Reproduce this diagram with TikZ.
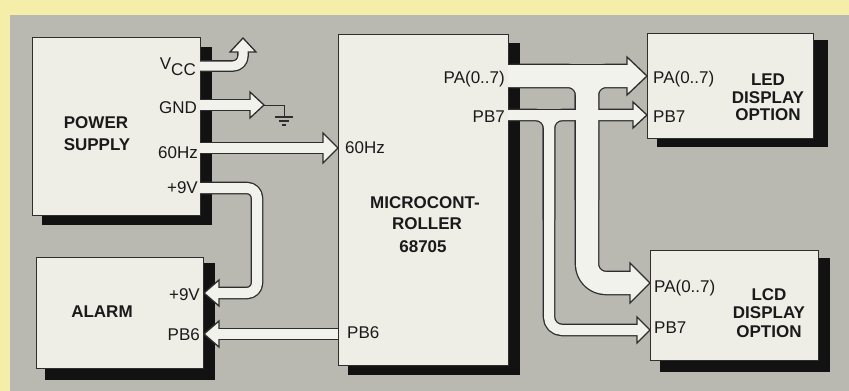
\documentclass[tikz,border=0pt]{standalone}
\usepackage{fontspec}
\setmainfont{Liberation Sans}
\definecolor{bgyellow}{HTML}{F4EEA8}
\definecolor{bggray}{HTML}{B9B9B1}
\definecolor{boxw}{HTML}{EEEEE7}
\definecolor{arrw}{HTML}{F2F2EC}
\definecolor{linec}{HTML}{2E2E2E}
\definecolor{shadowc}{HTML}{121212}
\definecolor{txtc}{HTML}{1A1A1A}
\begin{document}
\begin{tikzpicture}[x=1pt,y=-1pt,
  font=\fontsize{17}{18}\selectfont,
  lbl/.style={inner sep=0pt, text=txtc},
  title/.style={inner sep=0pt, text=txtc, font=\fontsize{17}{18}\selectfont\bfseries, anchor=base},
  boxstyle/.style={draw=linec, line width=1pt, fill=boxw, inner sep=0pt},
  busout/.style={draw=linec, line width=#1+2.6pt, line cap=butt, line join=round},
  busin/.style={draw=arrw, line width=#1, line cap=butt, line join=round},
  headstyle/.style={fill=arrw, draw=linec, line width=1.3pt, line join=miter}]
% background
\fill[bgyellow] (0,0) rectangle (849,391);
\fill[bggray] (10,15) rectangle (849,391);
\useasboundingbox (0,0) rectangle (849,391);
% shadows
\fill[shadowc] (42,47) rectangle (212,225);
\fill[shadowc] (45,263) rectangle (215,380);
\fill[shadowc] (348,43) rectangle (520,375);
\fill[shadowc] (657,40) rectangle (828,147);
\fill[shadowc] (660,258) rectangle (830,372);
% boxes
\node[boxstyle, minimum width=168pt, minimum height=178pt] (psu) at (116,126) {};
\node[boxstyle, minimum width=167pt, minimum height=111pt] (alarm) at (119.5,312.5) {};
\node[boxstyle, minimum width=170pt, minimum height=331pt] (mcu) at (423,199.5) {};
\node[boxstyle, minimum width=166pt, minimum height=105pt] (led) at (730,85.5) {};
\node[boxstyle, minimum width=168pt, minimum height=110pt] (lcd) at (734,305) {};
% port coordinates
\coordinate (vccA) at (200,66);  \coordinate (vccT) at (243,52);
\coordinate (gndA) at (200,105); \coordinate (gndB) at (250,105); \coordinate (gndT) at (264,105);
\coordinate (hzA) at (200,148);  \coordinate (hzB) at (323,148);
\coordinate (nvA) at (200,188);  \coordinate (nvB) at (219,293);
\coordinate (pb6A) at (338,334); \coordinate (pb6B) at (219,334);
\coordinate (paA) at (508,76);   \coordinate (paB) at (627,76);  \coordinate (paC) at (630,283);
\coordinate (pbA) at (508,115);  \coordinate (pbB) at (633,115); \coordinate (pbC) at (637,330);
% ---- bus outlines ----
\draw[busout=9pt, rounded corners=10pt] (vccA) -| (vccT);
\draw[busout=10pt] (gndA) -- (gndB);
\draw[busout=10pt] (hzA) -- (hzB);
\draw[busout=10pt, rounded corners=10pt] (nvA) -- (257,188) -- (257,293) -- (nvB);
\draw[busout=10pt] (pb6A) -- (pb6B);
\draw[busout=22pt] (paA) -- (paB);
\draw[busout=22pt, rounded corners=19pt] (paA) -- (587,76) -- (587,283) -- (paC);
\draw[busout=22pt, rounded corners=19pt] (587,200) -- (587,76) -- (paB);
\draw[busout=10pt] (pbA) -- (pbB);
\draw[busout=10pt, rounded corners=13pt] (pbA) -- (549,115) -- (549,330) -- (pbC);
\draw[busout=10pt, rounded corners=13pt] (549,220) -- (549,115) -- (pbB);
% ---- heads ----
\draw[headstyle] (230,52) -- (243,38) -- (256,52) -- cycle;
\draw[headstyle] (250,92) -- (264,105) -- (250,118) -- cycle;
\draw[headstyle] (323,133) -- (338,148) -- (323,163) -- cycle;
\draw[headstyle] (219,280) -- (204,293) -- (219,306) -- cycle;
\draw[headstyle] (219,321) -- (204,334) -- (219,347) -- cycle;
\draw[headstyle] (627,57) -- (647,76) -- (627,95) -- cycle;
\draw[headstyle] (630,263) -- (650,283) -- (630,303) -- cycle;
\draw[headstyle] (633,102) -- (647,115) -- (633,128) -- cycle;
\draw[headstyle] (637,317) -- (650,330) -- (637,343) -- cycle;
% ---- bus interiors ----
\draw[busin=9pt, rounded corners=10pt] (vccA) -| (243,50);
\draw[busin=10pt] (gndA) -- (252,105);
\draw[busin=10pt] (hzA) -- (325,148);
\draw[busin=10pt, rounded corners=10pt] (nvA) -- (257,188) -- (257,293) -- (217,293);
\draw[busin=10pt] (pb6A) -- (217,334);
\draw[busin=22pt] (paA) -- (629,76);
\draw[busin=22pt, rounded corners=19pt] (paA) -- (587,76) -- (587,283) -- (632,283);
\draw[busin=22pt, rounded corners=19pt] (587,200) -- (587,76) -- (629,76);
\draw[busin=10pt] (pbA) -- (635,115);
\draw[busin=10pt, rounded corners=13pt] (pbA) -- (549,115) -- (549,330) -- (639,330);
\draw[busin=10pt, rounded corners=13pt] (549,220) -- (549,115) -- (635,115);
% ground wire and symbol
\coordinate (gw1) at (284,105); \coordinate (gw2) at (284,117);
\draw[linec, line width=1pt] (gndT) -- (gw1) -- (gw2);
\draw[linec, line width=1.4pt] (275,117) -- (293,117);
\draw[linec, line width=1.4pt] (279,121) -- (289,121);
\draw[linec, line width=1.4pt] (282,125) -- (286,125);
% ---- texts: power supply ----
\node[lbl, anchor=base east] (tvcc) at (196,69) {V\raisebox{-6pt}{CC}};
\node[lbl, anchor=base east] (tgnd) at (197,113) {GND};
\node[lbl, anchor=base east] (thz) at (198,158) {60Hz};
\node[lbl, anchor=base east] (tnv) at (198,193) {+9V};
\node[title] (tpow) at (96,128) {POWER};
\node[title] (tsup) at (97,150) {SUPPLY};
% alarm
\node[title] (talarm) at (102,317) {ALARM};
\node[lbl, anchor=base east] (tanv) at (200,300) {+9V};
\node[lbl, anchor=base east] (tapb) at (200,340) {PB6};
% micro
\node[lbl, anchor=base east] (tmpa) at (505,83) {PA(0..7)};
\node[lbl, anchor=base east] (tmpb) at (505,122) {PB7};
\node[lbl, anchor=base west] (tmhz) at (345,153) {60Hz};
\node[lbl, anchor=base west] (tmpb6) at (347,338) {PB6};
\node[title] (tm1) at (425,208) {MICROCONT-};
\node[title] (tm2) at (427,229) {ROLLER};
\node[title] (tm3) at (423,252) {68705};
% led
\node[lbl, anchor=base west] (tlpa) at (653,83) {PA(0..7)};
\node[lbl, anchor=base west] (tlpb) at (653,122) {PB7};
\node[title] (tl1) at (768,85) {LED};
\node[title] (tl2) at (768,103) {DISPLAY};
\node[title] (tl3) at (768,120) {OPTION};
% lcd
\node[lbl, anchor=base west] (tcpa) at (654,292) {PA(0..7)};
\node[lbl, anchor=base west] (tcpb) at (654,333) {PB7};
\node[title] (tc1) at (769,300) {LCD};
\node[title] (tc2) at (769,318) {DISPLAY};
\node[title] (tc3) at (769,337) {OPTION};
\end{tikzpicture}
\end{document}
